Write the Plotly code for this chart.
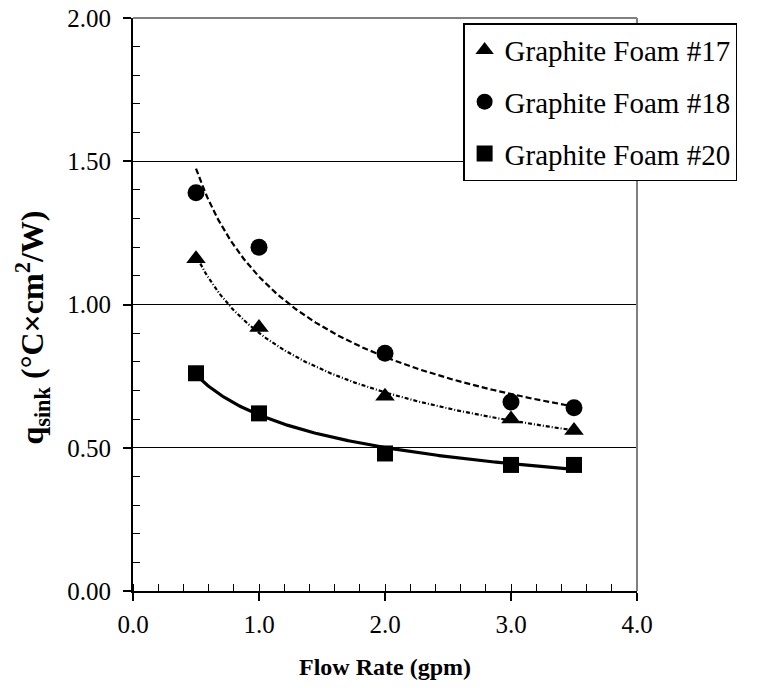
import numpy as np
import plotly.graph_objects as go

flow = [0.5, 1.0, 2.0, 3.0, 3.5]
foam17 = [1.16, 0.92, 0.68, 0.60, 0.56]
foam18 = [1.39, 1.20, 0.83, 0.66, 0.64]
foam20 = [0.76, 0.62, 0.48, 0.44, 0.44]
names = ["Graphite Foam #17", "Graphite Foam #18", "Graphite Foam #20"]
x_ticks = [0, 1, 2, 3, 4]
y_ticks = [0, 0.5, 1.0, 1.5, 2.0]
symbols = ["triangle-up", "circle", "square"]
sizes = [17, 17, 16]
dashes = ["4px,2px,1px,2px", "6px,3px", "solid"]
widths = [2.2, 2.2, 3.2]

series = [foam17, foam18, foam20]
FONT = "Liberation Serif"

fig = go.Figure()

xd = np.linspace(min(flow), max(flow), 200)
for i, ys in enumerate(series):
    b, lna = np.polyfit(np.log(flow), np.log(ys), 1)
    yfit = np.exp(lna) * xd ** b
    fig.add_trace(go.Scatter(x=xd, y=yfit, mode="lines", showlegend=False,
                             line=dict(color="black", width=widths[i], dash=dashes[i]),
                             hoverinfo="skip"))

for i, ys in enumerate(series):
    fig.add_trace(go.Scatter(x=flow, y=ys, mode="markers", name=names[i],
                             legendgroup=names[i],
                             marker=dict(symbol=symbols[i], size=sizes[i], color="black")))

fig.update_layout(
    width=765, height=688,
    margin=dict(l=133, r=128, t=18, b=97),
    paper_bgcolor="white", plot_bgcolor="white",
    font=dict(family=FONT, color="black", size=25),
    showlegend=True,
    legend=dict(x=0.655, y=0.991, xanchor="left", yanchor="top",
                bordercolor="black", borderwidth=1.5, bgcolor="white",
                font=dict(family=FONT, size=29, color="black"),
                traceorder="grouped", tracegroupgap=11,
                itemsizing="trace"),
    xaxis=dict(range=[0, 4], tickvals=x_ticks, tickformat=".1f",
               showgrid=False, zeroline=False, automargin=False,
               showline=True, linecolor="black", linewidth=2,
               ticks="outside", ticklen=8, tickwidth=1.5, tickcolor="black",
               ticklabelstandoff=2,
               minor=dict(dtick=0.2, ticks="inside", ticklen=7, tickwidth=1.2, tickcolor="black", showgrid=False),
               tickfont=dict(family=FONT, size=25)),
    yaxis=dict(range=[0, 2], tickvals=y_ticks, tickformat=".2f",
               showgrid=True, gridcolor="black", gridwidth=1,
               zeroline=False, automargin=False,
               showline=True, linecolor="black", linewidth=2,
               ticks="outside", ticklen=8, tickwidth=1.5, tickcolor="black",
               ticklabelstandoff=7,
               minor=dict(dtick=0.1, ticks="inside", ticklen=7, tickwidth=1.2, tickcolor="black", showgrid=False),
               tickfont=dict(family=FONT, size=25)),
)

fig.add_annotation(text="<b>Flow Rate (gpm)</b>", xref="paper", yref="paper",
                   x=0.5, y=-0.1326, xanchor="center", yanchor="middle", showarrow=False,
                   font=dict(family=FONT, size=24, color="black"))
fig.add_annotation(text="<b>q<sub>sink</sub> (°C×cm<sup>2</sup>/W)</b>", xref="paper", yref="paper",
                   x=-0.2, y=0.46, xanchor="center", yanchor="middle", showarrow=False,
                   textangle=-90, font=dict(family=FONT, size=32, color="black"))

fig.add_shape(type="line", xref="paper", yref="paper", x0=0, x1=1, y0=1, y1=1,
              line=dict(color="#808080", width=2))
fig.add_shape(type="line", xref="paper", yref="paper", x0=1, x1=1, y0=0, y1=1,
              line=dict(color="#808080", width=2))

fig.write_html("out.html")
